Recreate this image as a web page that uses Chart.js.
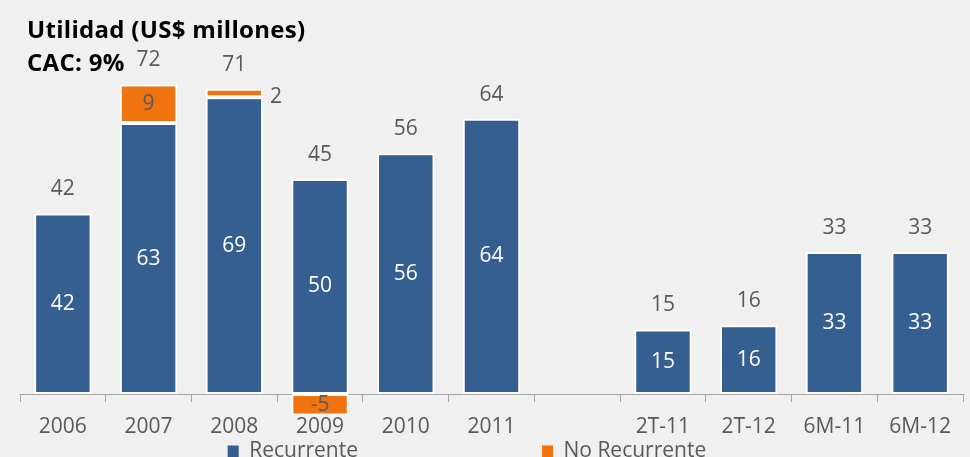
<!DOCTYPE html>
<html>
<head>
<meta charset="utf-8">
<script src="https://cdn.jsdelivr.net/npm/chart.js@4/dist/chart.umd.min.js"></script>
<style>
  body { margin: 0; background: #f0f0f0; }
  #wrap { position: relative; width: 970px; height: 457px; background: #f0f0f0; overflow: hidden; }
  .ttl { position: absolute; left: 27px; font-family: "Open Sans", sans-serif; font-weight: bold;
         color: #000; font-size: 24px; line-height: 30px; letter-spacing: 0.3px; white-space: nowrap; }
</style>
</head>
<body>
<div id="wrap">
  <canvas id="chart"></canvas>
  <div class="ttl" style="top:14px;">Utilidad (US$ millones)</div>
  <div class="ttl" style="top:47px;">CAC: 9%</div>
</div>
<script>
// ── Data ─────────────────────────────────────────────────────
const categorias   = ['2006', '2007', '2008', '2009', '2010', '2011', '', '2T-11', '2T-12', '6M-11', '6M-12'];
const recurrente   = [42, 63, 69, 50, 56, 64, null, 15, 16, 33, 33];
const noRecurrente = [null, 9, 2, -5, null, null, null, null, null, null, null];
const totales      = [42, 72, 71, 45, 56, 64, null, 15, 16, 33, 33];

const AZUL = '#355f91';
const NARANJA = '#f0730f';
const GRIS = '#595959';
const FONT = '"Open Sans", sans-serif';

// ── Value labels (inside segments + totals above) ────────────
const valueLabels = {
  id: 'valueLabels',
  afterDatasetsDraw(chart) {
    const ctx = chart.ctx;
    const yScale = chart.scales.y;
    ctx.save();
    ctx.font = '21px ' + FONT;
    ctx.textBaseline = 'middle';

    chart.data.datasets.forEach((ds, di) => {
      const meta = chart.getDatasetMeta(di);
      meta.data.forEach((bar, i) => {
        const v = ds.data[i];
        if (v == null) return;
        const { x, y, base, width } = bar.getProps(['x', 'y', 'base', 'width'], true);
        const h = Math.abs(base - y);
        ctx.fillStyle = di === 0 ? '#ffffff' : GRIS;
        if (h < 16) {
          // segment too thin: write it beside the bar
          ctx.textAlign = 'left';
          ctx.fillText(v, x + width / 2 + 7, (y + base) / 2 + 4);
        } else {
          ctx.textAlign = 'center';
          ctx.fillText(v, x, (y + base) / 2);
        }
      });
    });

    // totals above the positive stack
    const meta0 = chart.getDatasetMeta(0);
    ctx.fillStyle = GRIS;
    ctx.textAlign = 'center';
    totales.forEach((t, i) => {
      if (t == null) return;
      const pos = Math.max(recurrente[i] || 0, 0) + Math.max(noRecurrente[i] || 0, 0);
      ctx.fillText(t, meta0.data[i].x, yScale.getPixelForValue(pos) - 24);
    });
    ctx.restore();
  }
};

// ── Chart ────────────────────────────────────────────────────
new Chart(document.getElementById('chart'), {
  type: 'bar',
  data: {
    labels: categorias,
    datasets: [
      {
        label: 'Recurrente',
        data: recurrente,
        backgroundColor: AZUL,
        borderColor: '#ffffff',
        borderWidth: 2,
        borderSkipped: false,
      },
      {
        label: 'No Recurrente',
        data: noRecurrente,
        backgroundColor: NARANJA,
        borderColor: '#ffffff',
        borderWidth: 2,
        borderSkipped: false,
      }
    ]
  },
  options: {
    responsive: true,
    maintainAspectRatio: false,
    animation: false,
    layout: { padding: { left: 20, right: 7, top: 50, bottom: -15 } },
    datasets: { bar: { categoryPercentage: 1, barPercentage: 0.67 } },
    plugins: {
      legend: {
        position: 'bottom',
        labels: {
          color: GRIS,
          font: { family: FONT, size: 21 },
          boxWidth: 11,
          boxHeight: 12,
          padding: 4,
          // wide gap between the two entries, as in the original
          generateLabels(chart) {
            const items = Chart.defaults.plugins.legend.labels.generateLabels(chart);
            items.forEach((it, i) => {
              it.text = it.text + ' '.repeat(i === 0 ? 33 : 9);
              it.lineWidth = 0;
            });
            return items;
          }
        }
      },
      tooltip: { enabled: false }
    },
    scales: {
      x: {
        stacked: true,
        position: { y: 0 },
        afterFit(scale) { scale.height = 0; },
        grid: {
          offset: true,
          drawOnChartArea: false,
          drawTicks: true,
          tickLength: 7,
          color: '#a6a6a6',
        },
        border: { display: true, color: '#a6a6a6', width: 1 },
        ticks: {
          color: GRIS,
          font: { family: FONT, size: 21 },
          padding: 13,
          maxRotation: 0,
          autoSkip: false,
        }
      },
      y: {
        stacked: true,
        display: false,
        min: -10,
        max: 80,
      }
    }
  },
  plugins: [valueLabels]
});
</script>
</body>
</html>
